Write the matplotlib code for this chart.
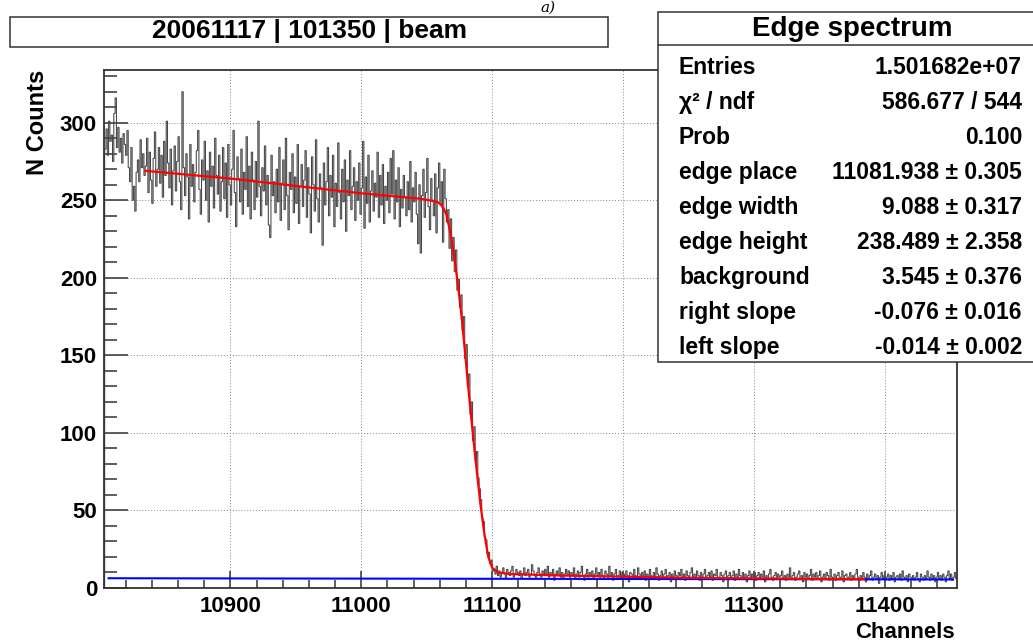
import numpy as np
import matplotlib.pyplot as plt
from matplotlib.patches import Rectangle
from matplotlib.lines import Line2D
from matplotlib.ticker import MultipleLocator

# histogram: counts per channel, starting at channel 10804 (bin width 1)
first_channel = 10804
counts_left = [
    283, 296, 279, 301, 288, 292, 275, 306, 316, 284,
    297, 281, 290, 274, 293, 286, 279, 295, 271, 262,
    284, 250, 259, 243, 268, 276, 262, 289, 271, 280, 266,
]
counts_plateau = [
    272, 290, 255, 281, 263, 248, 277, 294, 259, 270, 284, 261, 279, 252, 288, 266, 301, 274, 258, 283,
    247, 269, 285, 256, 275, 291, 262, 244, 320, 271, 253, 280, 265, 238, 286, 259, 273, 249, 268, 282,
    295, 257, 241, 276, 263, 288, 250, 269, 236, 281, 259, 272, 245, 290, 266, 254, 279, 243, 262, 284,
    251, 274, 239, 286, 260, 247, 270, 295, 255, 233, 278, 264, 249, 283, 241, 268, 257, 291, 246, 272,
    238, 281, 263, 244, 275, 252, 301, 259, 240, 271, 256, 285, 247, 266, 234, 226, 279, 253, 262, 242,
    270, 249, 284, 237, 261, 276, 244, 290, 253, 231, 268, 257, 280, 242, 265, 248, 286, 235, 259, 273,
    246, 263, 282, 239, 271, 254, 229, 278, 260, 243, 289, 251, 236, 267, 258, 221, 274, 247, 262, 284,
    240, 266, 252, 279, 233, 261, 246, 287, 255, 238, 270, 249, 276, 230, 263, 253, 282, 244, 259, 271,
    237, 262, 250, 274, 241, 258, 288, 232, 265, 248, 279, 236, 256, 269, 243, 261, 252, 281, 239, 266,
    247, 273, 235, 259, 250, 268, 242, 277, 254, 282, 238, 263, 249, 271, 233, 257, 245, 266, 252, 240,
    262, 244, 275, 236, 258, 249, 268, 241, 222, 260, 216, 253, 270, 239, 255, 277, 246, 231, 264, 250,
    240, 267, 229, 258, 274, 247,
]
counts_edge = [
    262, 223, 270, 251, 236, 244, 219, 238, 211, 226,
    204, 218, 192, 199, 181, 189, 166, 175, 148, 157,
    130, 138, 112, 120, 95, 104, 82, 88, 71, 64,
    57, 45, 43, 33, 31, 22, 23, 16, 18, 11,
]
counts_tail = [
    12, 9, 14, 8, 11, 7, 10, 13, 9, 6, 12, 10, 8, 11, 14, 7, 9, 12, 10, 8,
    11, 6, 9, 13, 8, 10, 12, 7, 9, 15, 11, 8, 6, 10, 13, 9, 7, 11, 8, 12,
    9, 14, 7, 10, 8, 12, 5, 9, 11, 8, 13, 7, 10, 6, 9, 12, 8, 11, 7, 10,
    8, 13, 6, 9, 11, 7, 10, 14, 8, 5, 9, 12, 7, 10, 8, 11, 6, 9, 13, 8,
    10, 7, 12, 8, 6, 11, 9, 7, 14, 8, 10, 5, 9, 12, 7, 8, 11, 6, 10, 9,
    7, 11, 8, 4, 10, 9, 6, 12, 8, 7, 13, 9, 6, 10, 8, 11, 5, 9, 7, 12,
    8, 6, 10, 7, 13, 9, 5, 8, 11, 7, 9, 12, 6, 8, 10, 4, 9, 7, 11, 8,
    6, 10, 8, 12, 7, 9, 5, 11, 8, 6, 10, 13, 7, 9, 6, 11, 8, 5, 10, 7,
    9, 12, 6, 8, 10, 7, 11, 5, 9, 8, 12, 6, 7, 10, 8, 4, 9, 11, 7, 8,
    10, 6, 8, 11, 5, 9, 7, 12, 8, 6, 10, 7, 9, 4, 8, 11, 6, 9, 7, 10,
    5, 8, 10, 6, 9, 7, 11, 4, 8, 6, 9, 12, 7, 5, 8, 10, 6, 9, 7, 8,
    11, 6, 8, 5, 9, 7, 13, 6, 8, 10, 5, 7, 9, 11, 6, 8, 4, 10, 7, 9,
    6, 8, 12, 5, 9, 7, 10, 6, 8, 11, 4, 7, 9, 6, 10, 8, 5, 12, 7, 6,
    9, 5, 8, 10, 6, 7, 11, 4, 8, 9, 6, 7, 10, 5, 8, 6, 9, 12, 7, 5,
    8, 6, 10, 7, 4, 9, 6, 8, 11, 5, 7, 9, 6, 8, 3, 7, 10, 6, 8, 5,
    7, 9, 5, 8, 6, 10, 4, 7, 8, 6, 9, 5, 11, 7, 6, 8, 4, 9, 7, 6,
    8, 5, 7, 10, 6, 4, 9, 7, 5, 8, 6, 11, 7, 5, 9, 6, 8, 4, 7, 10,
    6, 8, 5, 9, 7, 4, 8, 11, 6, 9, 5, 7, 10, 6, 8,
]

# fitted edge function (red)
fit_x = [10835, 10900, 11000, 11045, 11052, 11056, 11059, 11061, 11063, 11065, 11067,
         11069, 11071, 11073, 11075, 11077, 11079, 11082, 11085, 11088, 11091, 11094,
         11097, 11100, 11105, 11114, 11150, 11200, 11250, 11300, 11350, 11384]
fit_y = [269, 264, 254.5, 251, 250, 249.3, 248.5, 247, 244.5, 241, 233,
         225, 213, 201, 187, 172, 154, 127, 101, 77, 54, 35,
         20, 13, 10, 9.0, 8.1, 7.3, 6.6, 6.2, 5.8, 5.7]

# background line (blue)
bg_x = [10807, 11452]
bg_y = [6.3, 5.5]

title = "20061117 | 101350 | beam"
stats_title = "Edge spectrum"
stats_names = ["Entries", "χ² / ndf", "Prob", "edge place", "edge width",
               "edge height", "background", "right slope", "left slope"]
stats_values = ["1.501682e+07", "586.677 / 544", "0.100", "11081.938 ± 0.305",
                "9.088 ± 0.317", "238.489 ± 2.358", "3.545 ± 0.376",
                "-0.076 ± 0.016", "-0.014 ± 0.002"]

plt.rcParams['font.family'] = ['Liberation Sans', 'DejaVu Sans']
plt.rcParams['font.weight'] = 'bold'

W, H = 1033, 641


def fx(px):
    return px / W


def fy(py):
    return 1 - py / H


fig = plt.figure(figsize=(W / 100, H / 100), dpi=100)
ax = fig.add_axes([fx(104), fy(588), fx(957) - fx(104), fy(70) - fy(588)])

counts = counts_left + counts_plateau + counts_edge + counts_tail
edges = first_channel + np.arange(len(counts) + 1)
ax.stairs(counts, edges, color='#444444', lw=0.75, zorder=2)
ax.plot(bg_x, bg_y, color='#0000ff', lw=1.5, zorder=3)
ax.plot(fit_x, fit_y, color='#ff0000', lw=1.6, zorder=4)

ax.set_xlim(10803.5, 11455)
ax.set_ylim(0, 334)
ax.xaxis.set_major_locator(MultipleLocator(100))
ax.xaxis.set_minor_locator(MultipleLocator(20))
ax.yaxis.set_major_locator(MultipleLocator(50))
ax.yaxis.set_minor_locator(MultipleLocator(10))
ax.grid(True, which='major', color='#888888', ls=(0, (1, 2)), lw=0.7, zorder=0)
ax.tick_params(which='both', direction='in', color='#333333', width=1.1,
               labelsize=16, top=False, right=False)
ax.tick_params(axis='y', which='major', length=17, pad=5)
ax.tick_params(axis='y', which='minor', length=9)
ax.tick_params(axis='x', which='major', length=12, pad=6)
ax.tick_params(axis='x', which='minor', length=6)
for lab in ax.get_xticklabels() + ax.get_yticklabels():
    lab.set_fontweight('bold')
for sp in ax.spines.values():
    sp.set_color('#333333')
    sp.set_linewidth(1.3)

fig.text(fx(37), fy(70), "N Counts", rotation=90, ha='center', va='top',
         fontsize=17, fontweight='bold')
fig.text(fx(955), fy(632), "Channels", ha='right', va='center',
         fontsize=16, fontweight='bold')

# title box
fig.add_artist(Rectangle((fx(10), fy(47)), fx(608) - fx(10), fy(17) - fy(47),
                         transform=fig.transFigure, facecolor='white',
                         edgecolor='#333333', lw=1.1, zorder=5))
fig.text(fx(309), fy(31), title, ha='center', va='center', fontsize=19,
         fontweight='bold', zorder=6)
fig.text(fx(548), fy(1), "a)", ha='center', va='top', fontsize=11,
         family='DejaVu Serif', style='italic', fontweight='normal')

# stats box
fig.add_artist(Rectangle((fx(658), fy(362)), fx(1045) - fx(658), fy(12) - fy(362),
                         transform=fig.transFigure, facecolor='white',
                         edgecolor='#333333', lw=1.1, zorder=5))
fig.add_artist(Line2D([fx(658), fx(1045)], [fy(45), fy(45)],
                      transform=fig.transFigure, color='#333333', lw=1.1, zorder=6))
fig.text(fx(852), fy(29), stats_title, ha='center', va='center', fontsize=20,
         fontweight='bold', zorder=6)
for i, (name, val) in enumerate(zip(stats_names, stats_values)):
    yy = 67 + i * 35.1
    fig.text(fx(679), fy(yy), name, ha='left', va='center', fontsize=16.5,
             fontweight='bold', zorder=6)
    fig.text(fx(1022), fy(yy), val, ha='right', va='center', fontsize=16.5,
             fontweight='bold', zorder=6)

fig.savefig("out.png", dpi=100)
